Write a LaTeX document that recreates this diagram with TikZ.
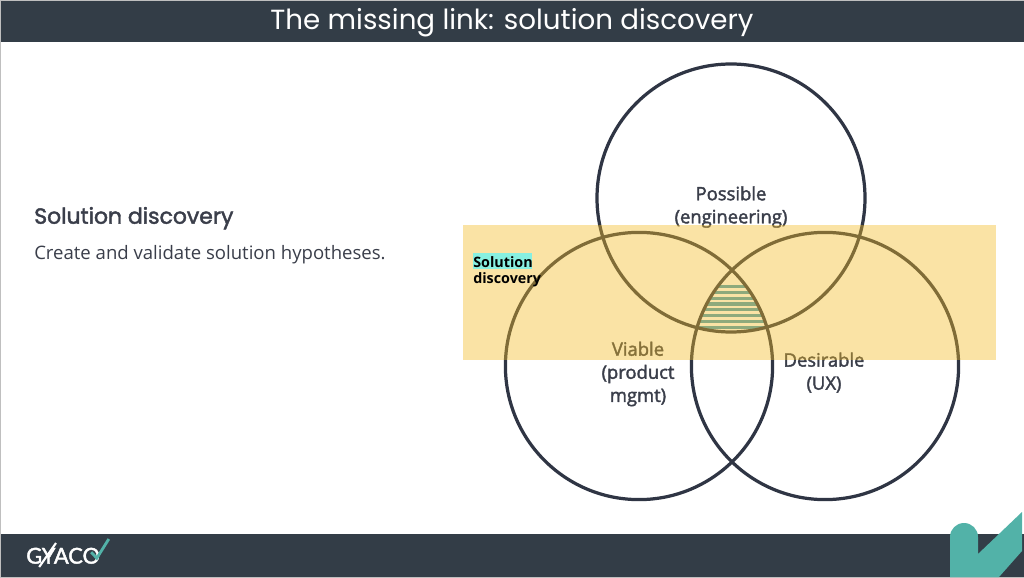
\documentclass[tikz,border=0pt]{standalone}
\usepackage{fontspec}
\setmainfont{Open Sans}
\newfontfamily\headfont{Poppins}
\newfontfamily\headsemifont[FakeBold=2]{Poppins}
\newfontfamily\logofont[FakeBold=2]{Lato}
\newfontfamily\semifont[FakeBold=2]{Open Sans}
\usetikzlibrary{positioning}
\definecolor{barcolor}{RGB}{51,61,71}
\definecolor{linecolor}{RGB}{47,53,68}
\definecolor{textcolor}{RGB}{58,62,74}
\definecolor{tealcolor}{RGB}{82,178,168}
\definecolor{bandcolor}{RGB}{244,188,37}
\definecolor{stripecolor}{RGB}{71,158,186}
\definecolor{markcolor}{RGB}{135,240,225}
\begin{document}
\begin{tikzpicture}
	\tikzstyle{every node}=[inner sep=0pt, text=textcolor]
	\tikzstyle{venn}=[draw=linecolor, line width=2.3pt]
	\tikzstyle{venntext}=[font=\fontsize{13.1pt}{16.4pt}\selectfont\semifont, align=center]
	\useasboundingbox (0,0) rectangle (25.6,14.425);
	\fill[white] (0,0) rectangle (25.6,14.425);
	
	\fill[barcolor] (0,13.375) rectangle (25.6,14.425);
	\fill[barcolor] (0,0) rectangle (25.6,1.075);
	\draw[color=gray!50, line width=0.5pt] (0,0) rectangle (25.6,14.425);
	
	\node (title) at (12.8,13.85) {\fontsize{19.7pt}{24pt}\selectfont\headfont\color{white} The missing link: solution discovery};
	\node[anchor=west] (heading) at (0.85,8.97) {\fontsize{15.6pt}{18pt}\selectfont\headsemifont Solution discovery};
	\node[anchor=west] (body) at (0.85,8.05) {\fontsize{13.2pt}{16pt}\selectfont Create and validate solution hypotheses.};
	
	\begin{scope}
		\clip (18.275,9.475) circle (3.35cm);
		\clip (15.975,5.275) circle (3.34cm);
		\clip (20.625,5.275) circle (3.34cm);
		\foreach \i in {0,...,7}
			\fill[stripecolor] (16,7.26-\i*0.145-0.04) rectangle (21,7.26-\i*0.145+0.04);
	\end{scope}
	
	\draw[venn] (18.275,9.475) circle (3.35cm);
	\draw[venn] (15.975,5.275) circle (3.34cm);
	\draw[venn] (20.625,5.275) circle (3.34cm);
	
	\node[venntext] (possible) at (18.275,9.25) {Possible\\(engineering)};
	\node[venntext] (viable) at (15.95,5.075) {Viable\\(product\\mgmt)};
	\node[venntext] (desirable) at (20.6,5.11) {Desirable\\(UX)};
	
	\fill[bandcolor, fill opacity=0.41] (11.575,5.425) rectangle (24.9,8.8);
	
	\fill[markcolor] (11.825,7.7) rectangle (13.3,8.1);
	\node[anchor=west, text=black, font=\fontsize{10.2pt}{12pt}\selectfont\bfseries, align=left] (solution) at (11.825,7.63) {Solution\\discovery};
	
	\node[anchor=west, text=white, font=\fontsize{15.5pt}{18pt}\selectfont\logofont] (logo) at (0.65,0.53) {GYACO};
	\draw[color=white, line width=1.5pt] (0.98,0.25) -- (1.4,0.85);
	\draw[color=tealcolor, line width=2pt] (2.28,0.62) -- (2.42,0.47) -- (2.72,0.95);
	
	\fill[tealcolor] (23.75,0) -- (23.75,1.0) arc[start angle=180, end angle=0, radius=0.35] -- (24.45,0.575) -- (25.55,1.625) -- (25.55,0.65) -- (24.975,0) -- cycle;
\end{tikzpicture}
\end{document}
